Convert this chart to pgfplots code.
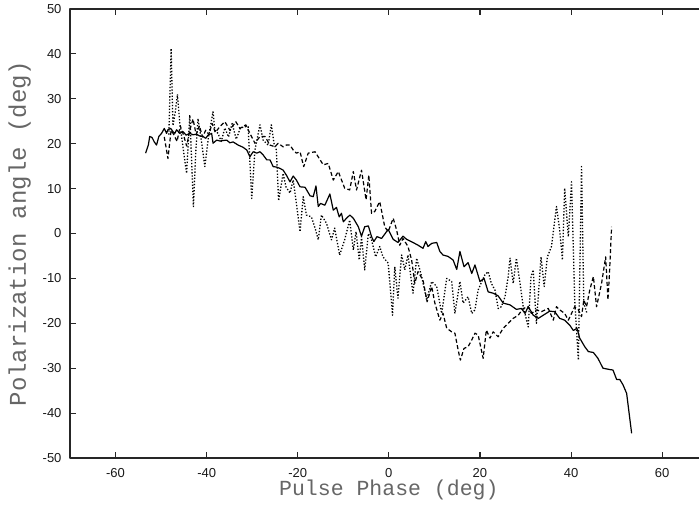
\documentclass[border=0pt]{standalone}
\usepackage{pgfplots}
\pgfplotsset{compat=1.18}
\usepackage{pgfplotstable}
\usepackage{fontspec}
\setmainfont{Liberation Sans}
\newfontfamily\monofont{Liberation Mono}

\pgfplotstableread{
x y
-53.4 17.9
-52.8 19.7
-52.5 21.6
-52.0 21.4
-51.5 20.4
-51.0 19.7
-50.5 21.6
-49.9 22.3
-49.3 23.4
-48.8 22.3
-48.5 23.1
-47.9 23.4
-47.4 22.7
-47.0 22.3
-46.6 23.1
-45.9 22.3
-45.2 22.7
-44.5 21.9
-43.7 22.3
-43.0 22.0
-42.2 22.1
-41.5 21.7
-40.8 21.6
-40.2 21.2
-39.7 21.9
-38.9 22.3
-38.6 20.1
-37.8 20.8
-37.1 20.6
-36.4 20.7
-35.6 20.8
-34.9 20.2
-34.2 20.4
-33.1 19.7
-32.0 19.2
-31.2 18.6
-30.5 17.1
-29.8 18.2
-29.0 17.9
-28.3 18.2
-27.6 17.5
-26.8 16.4
-26.1 16.4
-25.4 14.9
-24.7 14.8
-23.9 14.5
-23.2 14.1
-22.5 13.0
-21.7 11.5
-21.0 12.8
-20.3 11.9
-19.5 10.4
-18.4 10.3
-17.3 8.4
-16.6 8.2
-16.0 10.6
-15.5 6.0
-15.0 6.7
-14.05 6.3
-12.95 8.8
-12.2 5.2
-11.5 5.8
-10.9 3.7
-10.4 4.5
-10.0 2.6
-9.3 3.4
-8.56 4.1
-7.8 3.4
-6.7 1.5
-6.0 -0.6
-5.3 1.5
-4.5 1.7
-3.8 -0.7
-3.3 -1.8
-2.6 -0.7
-1.6 -1.1
-0.15 0.9
0.95 -1.3
2.0 -2.0
3.1 -0.6
3.9 -1.3
5.3 -2.0
6.4 -2.6
7.5 -3.3
8.1 -1.8
8.6 -2.9
9.4 -2.2
10.5 -2.0
11.2 -4.0
11.9 -4.8
13.0 -5.1
14.1 -5.9
14.9 -8.0
15.6 -4.0
16.5 -7.4
17.4 -6.5
18.2 -8.9
18.9 -7.0
20.0 -10.7
20.9 -10.0
21.8 -13.0
22.9 -13.3
24.0 -13.9
25.1 -15.5
26.6 -15.9
28.0 -16.9
29.1 -16.7
29.9 -17.8
30.6 -16.3
31.7 -18.2
32.8 -18.9
33.9 -18.2
35.3 -17.3
36.4 -17.4
37.5 -18.9
38.6 -19.3
39.7 -20.4
40.5 -21.6
41.3 -21.1
41.9 -23.3
43.0 -25.2
43.8 -26.3
44.9 -26.5
45.9 -27.8
47.0 -30.0
48.5 -30.3
49.2 -30.4
50.0 -32.5
50.7 -32.5
51.4 -33.7
52.2 -35.6
53.3 -44.5
}\solidtab

\pgfplotstableread{
x y
-49.3 21.5
-48.5 16.7
-47.8 23.0
-47.2 22.0
-46.5 20.5
-45.8 24.0
-45.1 22.0
-44.4 19.5
-43.7 23.0
-43.0 25.5
-42.3 22.0
-41.6 24.0
-40.9 21.5
-40.2 23.0
-39.5 22.0
-38.8 24.5
-38.1 22.5
-37.1 23.8
-36.0 24.9
-34.9 23.0
-33.6 24.9
-32.7 23.4
-31.4 24.2
-30.5 22.3
-29.4 20.1
-28.3 21.6
-27.2 21.6
-26.1 19.7
-25.0 19.3
-24.3 20.1
-23.2 19.3
-22.5 19.7
-21.7 19.7
-21.0 18.6
-20.3 17.9
-19.5 18.2
-18.7 14.9
-17.7 17.9
-16.2 18.2
-15.1 16.4
-14.4 15.3
-13.3 15.6
-12.2 11.9
-11.1 13.8
-9.7 10.1
-8.6 9.7
-7.8 13.8
-7.1 9.7
-6.0 14.1
-5.0 7.5
-4.4 13.0
-3.8 4.5
-3.1 4.9
-2.0 7.1
-0.9 1.5
-0.15 0.4
0.95 3.4
1.7 0.8
2.4 -2.6
3.1 -1.1
4.2 -2.9
5.0 -5.9
5.7 -11.1
6.4 -8.5
7.5 -10.4
8.4 -15.2
9.4 -11.8
10.1 -15.5
11.2 -19.3
11.9 -17.8
12.7 -21.1
13.8 -21.9
14.5 -22.2
15.2 -25.9
15.7 -28.2
16.5 -25.6
17.4 -25.2
18.2 -23.7
18.9 -22.2
19.6 -22.6
20.7 -27.8
21.4 -21.5
22.2 -23.3
22.9 -21.9
24.0 -23.0
25.1 -21.1
26.2 -20.0
27.3 -18.9
28.4 -18.2
29.5 -16.7
30.6 -16.3
31.3 -17.8
32.4 -17.0
33.5 -17.4
35.0 -16.7
36.1 -19.3
36.8 -16.3
37.5 -17.0
38.6 -17.8
39.4 -19.3
40.1 -17.8
40.8 -16.3
41.6 -17.0
42.3 -18.5
42.8 -14.8
43.4 -16.3
44.1 -12.6
44.9 -9.6
45.6 -16.3
46.7 -11.1
47.6 -5.2
48.1 -14.8
48.4 -9.6
48.9 1.5
}\dashedtab

\pgfplotstableread{
x y
-48.3 22.0
-47.8 41.2
-47.4 24.0
-46.9 27.0
-46.4 31.0
-45.9 24.5
-45.5 21.6
-44.9 17.0
-44.4 13.4
-43.7 26.4
-42.9 6.0
-42.4 18.0
-41.9 25.6
-41.2 21.0
-40.4 14.9
-39.6 21.5
-38.6 27.1
-38.2 23.0
-37.5 22.3
-36.8 20.5
-36.0 23.5
-35.2 21.5
-34.4 24.5
-33.5 21.0
-32.6 23.5
-31.6 23.8
-30.9 23.8
-30.1 7.8
-29.4 18.6
-28.3 24.2
-27.6 20.8
-26.5 19.7
-25.8 24.2
-25.2 20.0
-24.7 18.6
-24.2 7.3
-23.2 13.4
-22.6 10.4
-21.7 9.0
-21.0 11.9
-20.3 6.7
-19.5 0.4
-18.8 8.2
-18.1 4.1
-17.0 3.7
-16.2 1.2
-15.5 -1.4
-14.8 4.1
-13.7 2.3
-12.6 -1.4
-11.9 1.2
-10.8 -4.8
-9.7 -1.4
-8.6 3.0
-7.8 -3.7
-7.2 0.4
-6.5 -5.9
-6.0 -0.7
-5.3 -8.1
-4.5 0.0
-3.8 -1.4
-2.9 -5.2
-2.0 -2.9
-1.3 -5.2
-0.15 -6.6
0.8 -18.2
1.3 -7.4
2.0 -14.4
2.8 -4.8
3.5 -8.1
4.2 -4.8
5.3 -13.3
6.1 -5.5
7.2 -9.6
8.3 -14.8
9.4 -10.7
10.5 -11.8
11.6 -17.8
12.7 -10.0
13.8 -10.7
14.5 -17.8
15.6 -10.7
16.3 -15.5
17.4 -14.1
18.2 -17.8
18.9 -17.0
19.6 -12.6
20.4 -10.7
21.1 -9.2
21.8 -8.5
22.5 -11.1
23.3 -12.6
24.0 -16.7
24.7 -16.3
25.5 -14.1
26.2 -9.6
26.6 -5.5
27.3 -11.1
28.0 -5.5
28.8 -11.1
29.5 -16.3
30.6 -20.8
31.2 -9.6
31.7 -8.1
32.1 -15.2
32.4 -20.0
33.4 -5.2
34.1 -11.8
34.8 -5.2
35.7 -2.9
36.8 6.0
37.5 0.8
38.1 -5.9
38.6 10.1
39.4 -0.7
40.1 11.5
40.8 -14.8
41.6 -28.2
42.3 14.9
42.8 -15.5
43.5 -17.8
}\dottedtab

\begin{document}
\begin{tikzpicture}
\begin{axis}[
  scale only axis,
  width=637.7bp, height=449bp,
  xmin=-70, xmax=70, ymin=-50, ymax=50,
  xtick={-60,-40,-20,0,20,40,60},
  xticklabels={-60,-40,-20,0,20,40,60},
  ytick={-50,-40,-30,-20,-10,0,10,20,30,40,50},
  yticklabels={-50,-40,-30,-20,-10,0,10,20,30,40,50},
  tick align=inside,
  major tick length=6bp,
  tick style={line width=1.1bp, black!85},
  axis line style={line width=1.5bp, black!85},
  ticklabel style={font=\fontsize{13bp}{15bp}\selectfont, text=black!90},
  xticklabel style={yshift=-6.5bp},
  yticklabel style={xshift=-5bp},
  every axis x label/.style={at={(axis description cs:0.5,-0.0846)}, anchor=base},
  every axis y label/.style={at={(axis description cs:-0.069,0.5)}, anchor=base, rotate=90},
  xlabel={\monofont\fontsize{21.5bp}{24bp}\selectfont\color{black!60}Pulse Phase (deg)},
  ylabel={\monofont\fontsize{24bp}{27bp}\selectfont\color{black!60}Polarization angle (deg)},
  line join=round,
]
\addplot[black, line width=1.2bp] table[x=x,y=y] {\solidtab};
\addplot[black, line width=1.2bp, dash pattern=on 4bp off 2.5bp] table[x=x,y=y] {\dashedtab};
\addplot[black, line width=1.3bp, dash pattern=on 1.3bp off 1.8bp] table[x=x,y=y] {\dottedtab};
\end{axis}
\pgfresetboundingbox
\path[use as bounding box] ([xshift=-70bp,yshift=-49bp]current axis.south west) rectangle ([xshift=629bp,yshift=9bp]current axis.north west);
\end{tikzpicture}
\end{document}
